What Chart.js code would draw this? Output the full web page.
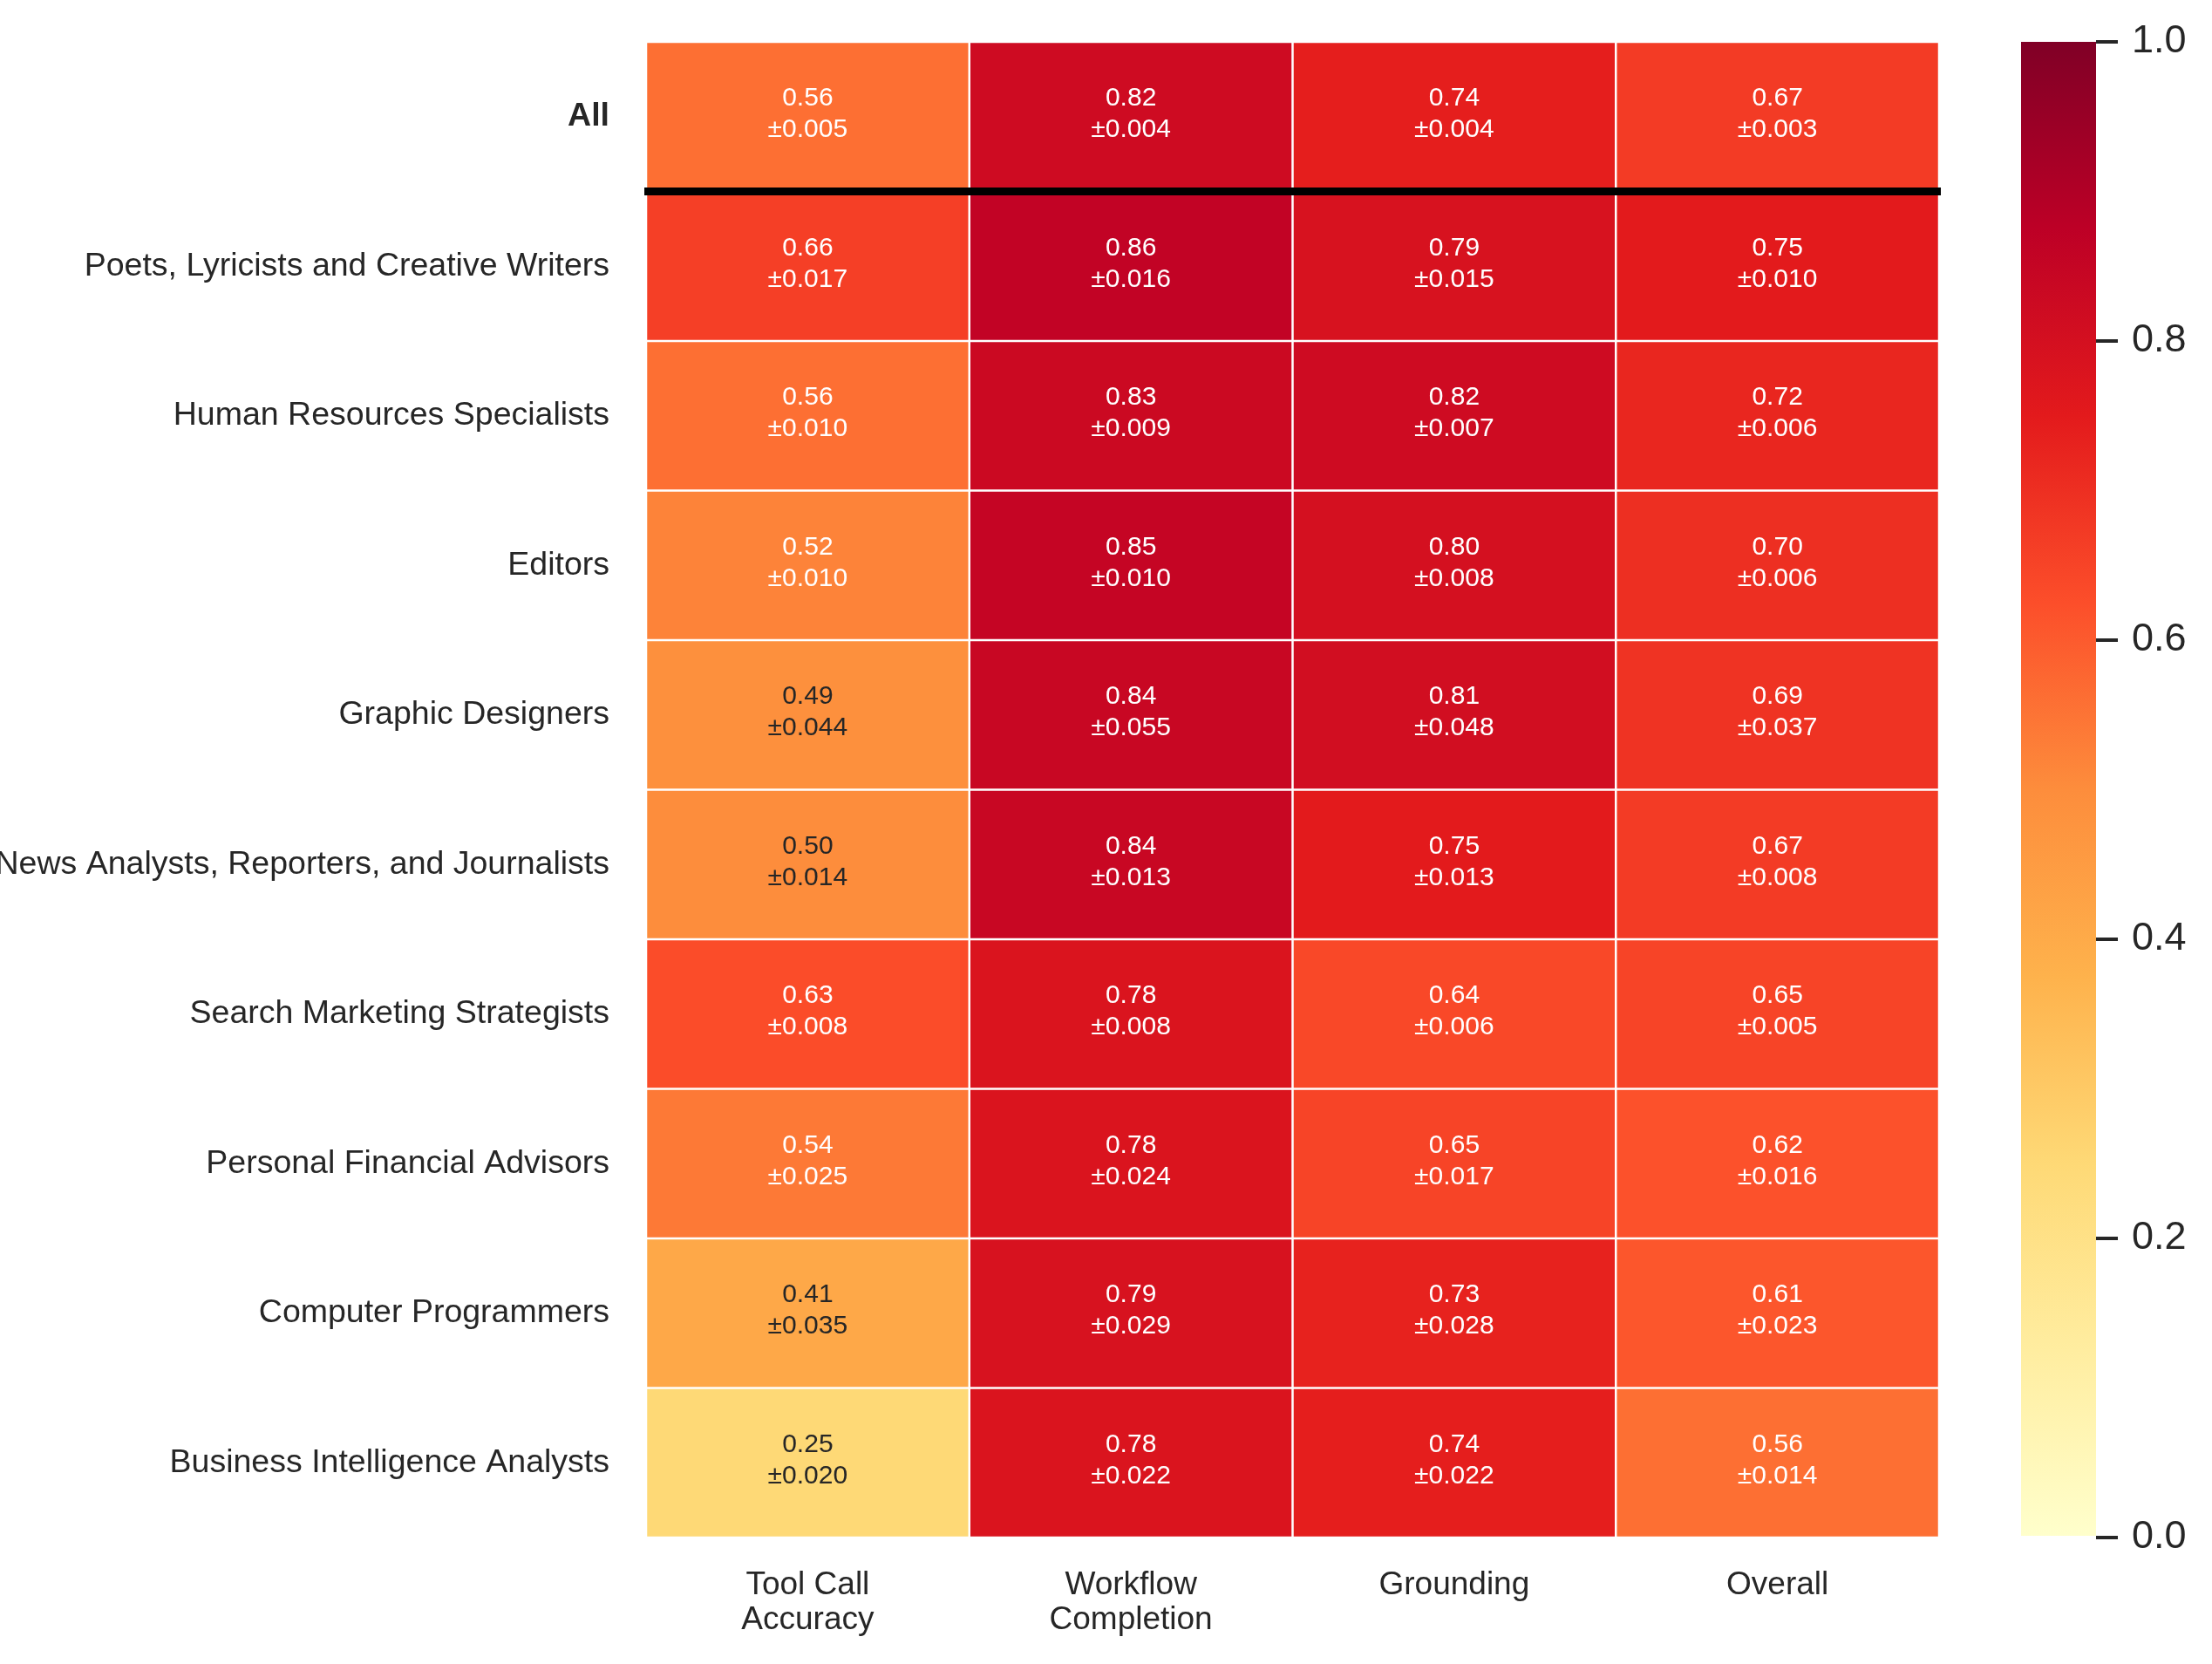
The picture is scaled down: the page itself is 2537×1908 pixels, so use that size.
<!DOCTYPE html>
<html>
<head>
<meta charset="utf-8">
<script src="https://cdn.jsdelivr.net/npm/chart.js@4.4.1/dist/chart.umd.min.js"></script>
<style>
  html, body { margin: 0; padding: 0; background: #ffffff; }
  #wrap { position: relative; width: 2537px; height: 1908px; overflow: hidden; }
  #main { position: absolute; left: 0; top: 0; }
  #cbar { position: absolute; left: 2300px; top: 0; }
</style>
</head>
<body>
<div id="wrap">
  <canvas id="main" width="2537" height="1908"></canvas>
  <canvas id="cbar" width="237" height="1908"></canvas>
</div>
<script>
// ---------------- data ----------------
const rows = [
  'All',
  'Poets, Lyricists and Creative Writers',
  'Human Resources Specialists',
  'Editors',
  'Graphic Designers',
  'News Analysts, Reporters, and Journalists',
  'Search Marketing Strategists',
  'Personal Financial Advisors',
  'Computer Programmers',
  'Business Intelligence Analysts'
];
const columns = [['Tool Call', 'Accuracy'], ['Workflow', 'Completion'], ['Grounding'], ['Overall']];

const toolCall      = [0.56, 0.66, 0.56, 0.52, 0.49, 0.50, 0.63, 0.54, 0.41, 0.25];
const toolCallErr   = [0.005, 0.017, 0.010, 0.010, 0.044, 0.014, 0.008, 0.025, 0.035, 0.020];
const workflow      = [0.82, 0.86, 0.83, 0.85, 0.84, 0.84, 0.78, 0.78, 0.79, 0.78];
const workflowErr   = [0.004, 0.016, 0.009, 0.010, 0.055, 0.013, 0.008, 0.024, 0.029, 0.022];
const grounding     = [0.74, 0.79, 0.82, 0.80, 0.81, 0.75, 0.64, 0.65, 0.73, 0.74];
const groundingErr  = [0.004, 0.015, 0.007, 0.008, 0.048, 0.013, 0.006, 0.017, 0.028, 0.022];
const overall       = [0.67, 0.75, 0.72, 0.70, 0.69, 0.67, 0.65, 0.62, 0.61, 0.56];
const overallErr    = [0.003, 0.010, 0.006, 0.006, 0.037, 0.008, 0.005, 0.016, 0.023, 0.014];

const colorbarTicks = [0, 0.2, 0.4, 0.6, 0.8, 1.0];

// ---------------- helpers ----------------
const valueCols = [toolCall, workflow, grounding, overall];
const errCols = [toolCallErr, workflowErr, groundingErr, overallErr];

// matplotlib YlOrRd anchor colours
const ylorrd = [
  [255, 255, 204], [255, 237, 160], [254, 217, 118], [254, 178, 76],
  [253, 141, 60], [252, 78, 42], [227, 26, 28], [189, 0, 38], [128, 0, 38]
];
function cmapRGB(v) {
  v = Math.max(0, Math.min(1, v));
  const p = v * (ylorrd.length - 1);
  const i = Math.min(ylorrd.length - 2, Math.floor(p));
  const f = p - i;
  const a = ylorrd[i], b = ylorrd[i + 1];
  return [0, 1, 2].map(k => a[k] + (b[k] - a[k]) * f);
}
function cmap(v) {
  const c = cmapRGB(v);
  return `rgb(${Math.round(c[0])},${Math.round(c[1])},${Math.round(c[2])})`;
}
function textColorFor(v) {
  const lin = x => { x /= 255; return x <= 0.03928 ? x / 12.92 : Math.pow((x + 0.055) / 1.055, 2.4); };
  const c = cmapRGB(v);
  const L = 0.2126 * lin(c[0]) + 0.7152 * lin(c[1]) + 0.0722 * lin(c[2]);
  return L > 0.40 ? '#262626' : '#ffffff';
}

const FONT = "'Liberation Sans', Arial, Helvetica, sans-serif";
const TEXT = '#262626';

// one dataset per row, floating bar [r, r+1] for each column
const datasets = rows.map((name, r) => ({
  label: name,
  data: columns.map(() => [r, r + 1]),
  backgroundColor: valueCols.map(col => cmap(col[r])),
  borderColor: '#ffffff',
  borderWidth: 1.25,
  borderSkipped: false,
  barPercentage: 1,
  categoryPercentage: 1,
  grouped: false,
  inflateAmount: 0
}));

const annotPlugin = {
  id: 'annot',
  afterDatasetsDraw(chart) {
    const ctx = chart.ctx;
    const xs = chart.scales.x, ys = chart.scales.y;
    ctx.save();
    ctx.font = `30px ${FONT}`;
    ctx.textAlign = 'center';
    ctx.textBaseline = 'middle';
    for (let r = 0; r < rows.length; r++) {
      const yc = ys.getPixelForValue(r + 0.5);
      for (let c = 0; c < columns.length; c++) {
        const xc = xs.getPixelForValue(c);
        const v = valueCols[c][r];
        ctx.fillStyle = textColorFor(v);
        ctx.fillText(v.toFixed(2), xc, yc - 21);
        ctx.fillText('\u00B1' + errCols[c][r].toFixed(3), xc, yc + 15);
      }
    }
    // separator line below "All"
    const a = chart.chartArea;
    const yl = ys.getPixelForValue(1);
    ctx.strokeStyle = '#000000';
    ctx.lineWidth = 9;
    ctx.beginPath();
    ctx.moveTo(a.left - 2, yl);
    ctx.lineTo(a.right + 2, yl);
    ctx.stroke();
    ctx.restore();
  }
};

function noPadding(s) {
  s.paddingTop = 0; s.paddingBottom = 0; s.paddingLeft = 0; s.paddingRight = 0;
}

new Chart(document.getElementById('main'), {
  type: 'bar',
  data: { labels: columns, datasets },
  options: {
    responsive: false,
    devicePixelRatio: 1,
    animation: false,
    layout: { padding: { top: 48, right: 313, left: 0, bottom: 0 } },
    plugins: { legend: { display: false }, tooltip: { enabled: false } },
    scales: {
      x: {
        type: 'category',
        offset: true,
        grid: { display: false, drawTicks: false },
        border: { display: false },
        ticks: {
          padding: 34,
          color: TEXT,
          maxRotation: 0,
          autoSkip: false,
          font: { family: FONT, size: 37, lineHeight: 1.1 }
        },
        afterFit(s) { s.height = 145; noPadding(s); }
      },
      y: {
        type: 'linear',
        display: false,
        min: 0,
        max: 10,
        reverse: true
      },
      yl: {
        type: 'category',
        labels: rows,
        position: 'left',
        offset: true,
        grid: { display: false, drawTicks: false },
        border: { display: false },
        ticks: {
          padding: 42,
          color: TEXT,
          autoSkip: false,
          font: (ctx) => ({ family: FONT, size: 37.5, weight: ctx.index === 0 ? 'bold' : 'normal' })
        },
        afterFit(s) { s.width = 741; noPadding(s); }
      }
    }
  },
  plugins: [annotPlugin]
});

// ---------------- colorbar ----------------
new Chart(document.getElementById('cbar'), {
  type: 'bar',
  data: {
    labels: [''],
    datasets: [{
      data: [[0, 1]],
      backgroundColor: (ctx) => {
        const chart = ctx.chart;
        if (!chart.chartArea) return 'rgba(0,0,0,0)';
        const ys = chart.scales.y;
        const g = chart.ctx.createLinearGradient(0, ys.getPixelForValue(0), 0, ys.getPixelForValue(1));
        ylorrd.forEach((c, i) => g.addColorStop(i / (ylorrd.length - 1), `rgb(${c[0]},${c[1]},${c[2]})`));
        return g;
      },
      borderWidth: 0,
      barPercentage: 1,
      categoryPercentage: 1,
      inflateAmount: 0
    }]
  },
  options: {
    responsive: false,
    devicePixelRatio: 1,
    animation: false,
    layout: { padding: { top: 48, bottom: 145, left: 18, right: 0 } },
    plugins: { legend: { display: false }, tooltip: { enabled: false } },
    scales: {
      x: { type: 'category', display: false },
      y: {
        type: 'linear',
        position: 'right',
        min: 0,
        max: 1,
        afterBuildTicks(s) { s.ticks = colorbarTicks.map(v => ({ value: v })); },
        grid: { display: true, drawOnChartArea: false, drawTicks: true, tickLength: 25, color: TEXT, lineWidth: 4 },
        border: { display: false },
        ticks: {
          padding: 16,
          color: TEXT,
          font: { family: FONT, size: 45 },
          callback: (v) => Number(v).toFixed(1)
        },
        afterFit(s) { s.width = 133; }
      }
    }
  }
});
</script>
</body>
</html>
